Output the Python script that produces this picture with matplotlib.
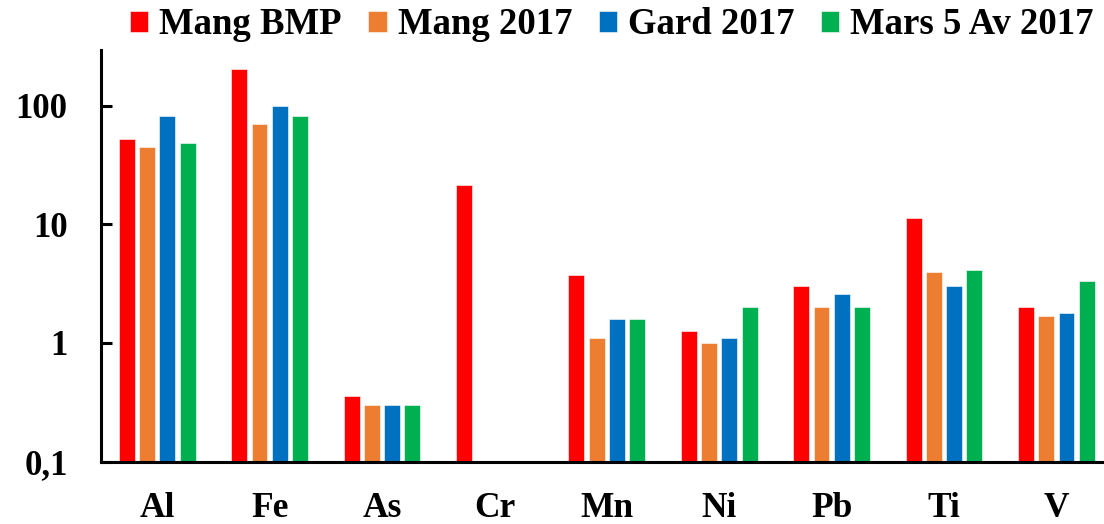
import numpy as np
import matplotlib
matplotlib.use("Agg")
import matplotlib.pyplot as plt

plt.rcParams["font.family"] = ["Liberation Serif", "DejaVu Serif"]
plt.rcParams["font.weight"] = "bold"

elements = ["Al", "Fe", "As", "Cr", "Mn", "Ni", "Pb", "Ti", "V"]
series_names = ["Mang BMP", "Mang 2017", "Gard 2017", "Mars 5 Av 2017"]
colors = ["#FF0000", "#ED7D31", "#0070C0", "#00B050"]

mang_bmp = [52, 205, 0.36, 21.3, 3.77, 1.25, 3.0, 11.3, 2.0]
mang_2017 = [45, 70, 0.30, np.nan, 1.1, 1.0, 2.0, 4.0, 1.7]
gard_2017 = [81, 99, 0.30, np.nan, 1.6, 1.1, 2.6, 3.0, 1.8]
mars_2017 = [48, 81, 0.30, np.nan, 1.6, 2.0, 2.0, 4.1, 3.3]
values = [mang_bmp, mang_2017, gard_2017, mars_2017]

yticks = [0.1, 1, 10, 100]
ytick_labels = ["0,1", "1", "10", "100"]

fig = plt.figure(figsize=(11.04, 5.24), dpi=100)
ax = fig.add_axes([101 / 1104, 62.3 / 524, 1011.6 / 1104, 411.7 / 524])

x = np.arange(len(elements))
step = 0.18
width = 0.142
for i, (name, vals, col) in enumerate(zip(series_names, values, colors)):
    ax.bar(x + (i - 1.5) * step, vals, width, color=col, label=name,
           edgecolor="white", linewidth=0.4)

ax.set_yscale("log")
ax.set_ylim(0.1, 294)
ax.set_xlim(-0.5, 8.5)
ax.set_yticks(yticks)
ax.set_yticklabels(ytick_labels)
ax.minorticks_off()
ax.set_xticks(x)
ax.set_xticklabels(elements)

ax.tick_params(axis="y", direction="in", length=8, width=2.2, pad=24,
               labelsize=25)
ax.tick_params(axis="x", length=0, pad=22, labelsize=25.5)
for lab in ax.get_xticklabels() + ax.get_yticklabels():
    lab.set_fontweight("bold")

for s in ["top", "right"]:
    ax.spines[s].set_visible(False)
ax.spines["left"].set_linewidth(2.2)
ax.spines["bottom"].set_linewidth(2.2)

fig.legend(loc="center", bbox_to_anchor=(612 / 1104, 1 - 25 / 524), ncol=4,
           frameon=False, prop={"size": 26.5, "weight": "bold"},
           handlelength=0.49, handleheight=0.54, handletextpad=0.3,
           columnspacing=0.73, borderpad=0, borderaxespad=0)

fig.savefig("out.png", dpi=100)
